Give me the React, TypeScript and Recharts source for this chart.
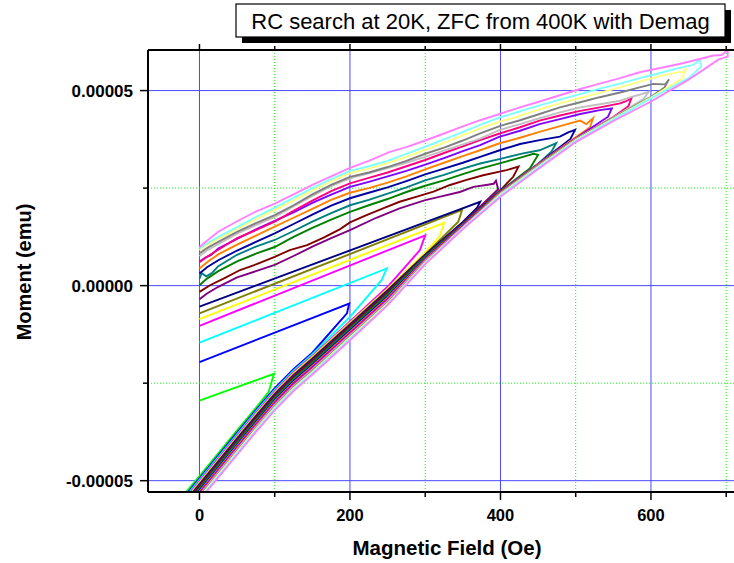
import React from 'react';
import { LineChart, Line, XAxis, YAxis, ReferenceLine } from 'recharts';

// Magnetic field in Oe, moment in units of 1e-5 emu. Each reversal curve: [H, M] points in drawing order.
const X_MAJOR = [0, 200, 400, 600];
const X_MINOR = [100, 300, 500, 700];
const Y_MAJOR = [-5, 0, 5];
const Y_MINOR = [-2.5, 2.5];
const X_TICKS = [0, 100, 200, 300, 400, 500, 600, 700];
const Y_TICKS = [-5, -2.5, 0, 2.5, 5];
const X_DOMAIN: [number, number] = [-68.4, 726.3];
const Y_DOMAIN: [number, number] = [-5.29, 6.04];

const TITLE = 'RC search at 20K, ZFC from 400K with Demag';
const X_TITLE = 'Magnetic Field (Oe)';
const Y_TITLE = 'Moment (emu)';

const BLACK_RC = [[-45, -6.25], [0, -5.2], [55, -3.9]];
const RED_RC = [[-45, -6.35], [0, -5.3], [55, -4.0]];
const GREEN_RC = [[-45, -5.93], [-12, -5.16], [0, -4.88], [50, -3.71], [75, -3.13], [92, -2.72], [99, -2.26], [0, -2.95]];
const BLUE_RC = [[-45, -5.99], [0, -4.94], [50, -3.77], [75, -3.19], [100, -2.63], [125, -2.14], [150, -1.72], [196, -0.71], [199, -0.46], [0, -1.96]];
const CYAN_RC = [[-45, -6.03], [0, -4.98], [50, -3.81], [75, -3.23], [100, -2.67], [125, -2.18], [150, -1.76], [200, -0.8], [242, 0.14], [249, 0.44], [0, -1.46]];
const MAGENTA_RC = [[-45, -6.07], [0, -5.02], [50, -3.85], [75, -3.27], [100, -2.71], [125, -2.22], [150, -1.8], [200, -0.92], [250, -0.03], [293, 0.91], [300, 1.29], [0, -1.03]];
const YELLOW_RC = [[-45, -6.1], [0, -5.05], [50, -3.88], [75, -3.3], [100, -2.74], [125, -2.25], [150, -1.83], [200, -0.95], [250, -0.08], [300, 0.85], [319, 1.25], [325, 1.61], [0, -0.86]];
const OLIVE_RC = [[-45, -6.13], [0, -5.08], [50, -3.91], [75, -3.33], [100, -2.77], [125, -2.28], [150, -1.86], [200, -0.98], [250, -0.11], [300, 0.8], [344, 1.64], [349, 1.94], [0, -0.71]];
const NAVY_RC = [[-45, -6.15], [0, -5.1], [50, -3.93], [75, -3.35], [100, -2.79], [125, -2.3], [150, -1.88], [200, -1.0], [250, -0.13], [300, 0.79], [350, 1.63], [369, 2.0], [373, 2.15], [0, -0.54]];
const PURPLE_RC = [[-45, -6.18], [0, -5.13], [50, -3.96], [75, -3.38], [100, -2.82], [125, -2.33], [150, -1.91], [200, -1.03], [250, -0.16], [300, 0.77], [350, 1.6], [397, 2.47], [394, 2.69], [391, 2.61], [381, 2.58], [364, 2.53], [346, 2.4], [320, 2.28], [300, 2.19], [266, 1.98], [235, 1.74], [200, 1.42], [175, 1.22], [150, 1.0], [125, 0.76], [100, 0.53], [75, 0.37], [50, 0.21], [25, -0.03], [10, -0.2], [0, -0.35]];
const WINE_RC = [[-45, -6.21], [0, -5.16], [50, -3.99], [75, -3.41], [100, -2.85], [125, -2.36], [150, -1.94], [200, -1.06], [250, -0.19], [300, 0.75], [350, 1.59], [400, 2.45], [417, 2.79], [424, 3.05], [408, 2.96], [377, 2.83], [355, 2.71], [333, 2.58], [311, 2.41], [289, 2.28], [266, 2.15], [244, 1.98], [222, 1.81], [200, 1.62], [187, 1.45], [165, 1.23], [143, 1.04], [120, 0.91], [100, 0.74], [76, 0.55], [54, 0.4], [32, 0.18], [14, 0.01], [0, -0.16]];
const DKGREEN_RC = [[-45, -6.24], [0, -5.19], [50, -4.02], [75, -3.44], [100, -2.88], [125, -2.39], [150, -1.97], [200, -1.09], [250, -0.22], [300, 0.74], [350, 1.57], [400, 2.43], [439, 3.0], [450, 3.35], [444, 3.38], [430, 3.3], [400, 3.14], [373, 3.0], [350, 2.86], [325, 2.7], [300, 2.56], [275, 2.4], [250, 2.22], [225, 2.06], [200, 1.89], [175, 1.69], [150, 1.48], [125, 1.25], [100, 0.99], [75, 0.82], [50, 0.62], [25, 0.37], [10, 0.18], [0, 0.01]];
const TEAL_RC = [[-45, -6.27], [0, -5.22], [50, -4.05], [75, -3.47], [100, -2.91], [125, -2.42], [150, -2.0], [200, -1.12], [250, -0.25], [300, 0.72], [350, 1.56], [400, 2.42], [450, 3.12], [468, 3.44], [474, 3.65], [468, 3.6], [452, 3.47], [430, 3.39], [400, 3.25], [373, 3.13], [350, 3.0], [325, 2.84], [300, 2.7], [275, 2.52], [250, 2.36], [225, 2.2], [200, 2.06], [175, 1.86], [150, 1.64], [125, 1.4], [100, 1.17], [75, 1.0], [50, 0.79], [25, 0.5], [17, 0.33], [9, 0.24], [3, 0.32], [0, 0.18]];
const ROYAL_RC = [[-45, -6.3], [0, -5.25], [50, -4.08], [75, -3.5], [100, -2.94], [125, -2.45], [150, -2.03], [200, -1.15], [250, -0.28], [300, 0.7], [350, 1.55], [400, 2.41], [450, 3.12], [493, 3.76], [499, 3.99], [490, 3.93], [479, 3.82], [452, 3.73], [426, 3.63], [399, 3.47], [373, 3.3], [350, 3.15], [325, 3.0], [300, 2.85], [275, 2.68], [250, 2.52], [225, 2.38], [200, 2.24], [175, 2.05], [150, 1.82], [125, 1.58], [100, 1.34], [75, 1.12], [50, 0.9], [25, 0.65], [10, 0.47], [0, 0.31]];
const ORANGE_RC = [[-45, -6.33], [0, -5.28], [50, -4.11], [75, -3.53], [100, -2.97], [125, -2.48], [150, -2.06], [200, -1.18], [250, -0.31], [300, 0.68], [350, 1.54], [400, 2.4], [450, 3.11], [500, 3.8], [519, 4.06], [523, 4.29], [514, 4.14], [506, 4.23], [479, 4.09], [452, 3.94], [426, 3.79], [399, 3.65], [373, 3.47], [350, 3.32], [325, 3.15], [300, 2.98], [275, 2.8], [250, 2.64], [225, 2.5], [200, 2.38], [175, 2.2], [150, 1.97], [125, 1.74], [100, 1.51], [75, 1.28], [50, 1.05], [25, 0.8], [10, 0.6], [0, 0.44]];
const VIOLET_RC = [[-45, -6.36], [0, -5.31], [50, -4.14], [75, -3.56], [100, -3.0], [125, -2.51], [150, -2.09], [200, -1.21], [250, -0.34], [300, 0.66], [350, 1.53], [400, 2.39], [450, 3.1], [500, 3.78], [543, 4.33], [548, 4.54], [532, 4.5], [506, 4.4], [479, 4.27], [452, 4.14], [426, 3.97], [399, 3.82], [373, 3.6], [350, 3.45], [325, 3.27], [300, 3.1], [275, 2.94], [250, 2.8], [225, 2.66], [200, 2.53], [175, 2.33], [150, 2.12], [125, 1.88], [100, 1.66], [75, 1.44], [50, 1.2], [25, 0.95], [15, 0.78], [8, 0.72], [0, 0.62]];
const PINK_RC = [[-45, -6.39], [0, -5.34], [50, -4.17], [75, -3.59], [100, -3.03], [125, -2.54], [150, -2.12], [200, -1.24], [250, -0.37], [300, 0.65], [350, 1.51], [400, 2.38], [450, 3.09], [500, 3.77], [550, 4.32], [570, 4.6], [574, 4.8], [566, 4.72], [559, 4.67], [532, 4.57], [506, 4.48], [479, 4.36], [452, 4.23], [426, 4.06], [399, 3.9], [373, 3.73], [350, 3.57], [325, 3.4], [300, 3.22], [275, 3.06], [250, 2.9], [225, 2.76], [200, 2.62], [175, 2.42], [150, 2.18], [125, 1.92], [100, 1.64], [75, 1.42], [50, 1.22], [25, 0.92], [10, 0.74], [0, 0.6]];
const LTGRAY_RC = [[-45, -6.42], [0, -5.37], [50, -4.2], [75, -3.62], [100, -3.06], [125, -2.57], [150, -2.15], [200, -1.27], [250, -0.4], [300, 0.63], [350, 1.5], [400, 2.37], [450, 3.08], [500, 3.76], [550, 4.31], [590, 4.78], [597, 4.97], [586, 4.9], [573, 4.83], [559, 4.74], [532, 4.65], [506, 4.57], [479, 4.44], [452, 4.29], [426, 4.14], [399, 3.99], [373, 3.77], [350, 3.62], [325, 3.46], [300, 3.3], [275, 3.15], [250, 3.01], [225, 2.88], [200, 2.75], [175, 2.55], [150, 2.3], [125, 2.03], [100, 1.76], [75, 1.55], [50, 1.33], [25, 1.06], [10, 0.9], [0, 0.76]];
const GRAY_RC = [[-45, -6.45], [0, -5.4], [50, -4.23], [75, -3.65], [100, -3.09], [125, -2.6], [150, -2.18], [200, -1.3], [250, -0.43], [300, 0.61], [350, 1.49], [400, 2.36], [450, 3.07], [500, 3.75], [550, 4.3], [600, 4.84], [618, 5.08], [624, 5.29], [619, 5.16], [603, 5.17], [585, 5.08], [559, 4.95], [532, 4.83], [506, 4.7], [479, 4.57], [452, 4.4], [426, 4.24], [399, 4.09], [373, 3.9], [350, 3.72], [325, 3.54], [300, 3.38], [275, 3.2], [250, 3.04], [225, 2.9], [200, 2.79], [175, 2.58], [150, 2.34], [125, 2.06], [100, 1.81], [75, 1.6], [50, 1.38], [25, 1.12], [10, 0.96], [0, 0.83]];
const LTYELLOW_RC = [[-45, -6.48], [0, -5.43], [50, -4.26], [75, -3.68], [100, -3.12], [125, -2.63], [150, -2.21], [200, -1.33], [250, -0.46], [300, 0.59], [350, 1.48], [400, 2.34], [450, 3.05], [500, 3.73], [550, 4.28], [600, 4.82], [641, 5.3], [647, 5.57], [643, 5.47], [638, 5.48], [612, 5.37], [585, 5.23], [559, 5.08], [532, 4.94], [506, 4.81], [479, 4.67], [452, 4.52], [426, 4.35], [399, 4.2], [373, 4.03], [350, 3.85], [325, 3.66], [300, 3.48], [275, 3.3], [250, 3.14], [225, 3.0], [200, 2.88], [175, 2.67], [150, 2.44], [125, 2.18], [100, 1.94], [75, 1.7], [50, 1.45], [25, 1.2], [10, 1.04], [0, 0.91]];
const LTCYAN_RC = [[-45, -6.51], [0, -5.46], [50, -4.29], [75, -3.71], [100, -3.15], [125, -2.66], [150, -2.24], [200, -1.36], [250, -0.49], [300, 0.57], [350, 1.47], [400, 2.32], [450, 3.03], [500, 3.71], [550, 4.26], [600, 4.8], [650, 5.32], [667, 5.62], [665, 5.78], [656, 5.66], [638, 5.58], [612, 5.45], [585, 5.32], [559, 5.18], [532, 5.05], [506, 4.91], [479, 4.77], [452, 4.62], [426, 4.47], [399, 4.31], [373, 4.12], [350, 3.94], [325, 3.75], [300, 3.56], [275, 3.38], [250, 3.2], [225, 3.06], [200, 2.94], [175, 2.73], [150, 2.5], [125, 2.25], [100, 2.0], [75, 1.76], [50, 1.5], [25, 1.25], [10, 1.08], [0, 0.95]];
const LTMAGENTA_RC = [[-45, -6.55], [0, -5.5], [50, -4.33], [75, -3.75], [100, -3.19], [125, -2.7], [150, -2.28], [200, -1.4], [250, -0.5], [300, 0.55], [350, 1.45], [400, 2.28], [450, 2.99], [500, 3.68], [550, 4.22], [600, 4.72], [650, 5.28], [690, 5.8], [702, 5.87], [702, 6.04], [694, 5.91], [683, 5.9], [665, 5.81], [638, 5.68], [612, 5.58], [585, 5.47], [559, 5.32], [532, 5.18], [506, 5.04], [479, 4.88], [452, 4.72], [426, 4.57], [399, 4.4], [373, 4.24], [350, 4.08], [325, 3.9], [300, 3.72], [275, 3.55], [253, 3.43], [225, 3.2], [200, 3.02], [175, 2.8], [150, 2.58], [125, 2.34], [100, 2.1], [75, 1.9], [50, 1.65], [25, 1.38], [10, 1.15], [0, 0.99]];

const SERIES = [
  { name: 'black', color: '#000000', points: BLACK_RC },
  { name: 'red', color: '#FF0000', points: RED_RC },
  { name: 'green', color: '#00FF00', points: GREEN_RC },
  { name: 'blue', color: '#0000FF', points: BLUE_RC },
  { name: 'cyan', color: '#00FFFF', points: CYAN_RC },
  { name: 'magenta', color: '#FF00FF', points: MAGENTA_RC },
  { name: 'yellow', color: '#FFFF00', points: YELLOW_RC },
  { name: 'olive', color: '#808000', points: OLIVE_RC },
  { name: 'navy', color: '#000080', points: NAVY_RC },
  { name: 'purple', color: '#800080', points: PURPLE_RC },
  { name: 'wine', color: '#800000', points: WINE_RC },
  { name: 'dkgreen', color: '#008000', points: DKGREEN_RC },
  { name: 'teal', color: '#008080', points: TEAL_RC },
  { name: 'royal', color: '#0000A0', points: ROYAL_RC },
  { name: 'orange', color: '#FF8000', points: ORANGE_RC },
  { name: 'violet', color: '#8000FF', points: VIOLET_RC },
  { name: 'pink', color: '#FF0080', points: PINK_RC },
  { name: 'ltgray', color: '#C0C0C0', points: LTGRAY_RC },
  { name: 'gray', color: '#808080', points: GRAY_RC },
  { name: 'ltyellow', color: '#FFFF80', points: LTYELLOW_RC },
  { name: 'ltcyan', color: '#80FFFF', points: LTCYAN_RC },
  { name: 'ltmagenta', color: '#FF80FF', points: LTMAGENTA_RC },
];

const FONT = '"Liberation Sans", Arial, Helvetica, sans-serif';

const fmtY = (v: number) => (v / 100000).toFixed(5);

const BottomTick = (props: any) => {
  const { x, y, payload } = props;
  const major = X_MAJOR.includes(payload.value);
  return (
    <g>
      <line x1={x} y1={y} x2={x} y2={y + (major ? 8 : 5)} stroke="#000" strokeWidth={1.5} />
      {major && (
        <text x={x} y={y + 29} textAnchor="middle" fontSize={16.5} fontWeight="bold" fontFamily={FONT} fill="#000">
          {payload.value}
        </text>
      )}
    </g>
  );
};

const TopTick = (props: any) => {
  const { x, y, payload } = props;
  const major = X_MAJOR.includes(payload.value);
  return <line x1={x} y1={y} x2={x} y2={y - (major ? 6 : 4)} stroke="#000" strokeWidth={1.5} />;
};

const LeftTick = (props: any) => {
  const { x, y, payload } = props;
  const major = Y_MAJOR.includes(payload.value);
  return (
    <g>
      <line x1={x} y1={y} x2={x - (major ? 8 : 5)} y2={y} stroke="#000" strokeWidth={1.5} />
      {major && (
        <text x={x - 15} y={y + 6} textAnchor="end" fontSize={17} fontWeight="bold" fontFamily={FONT} fill="#000">
          {fmtY(payload.value)}
        </text>
      )}
    </g>
  );
};

export default function App() {
  return (
    <div style={{ position: 'relative', width: 734, height: 563, overflow: 'hidden', background: '#fff' }}>
      <style>{'body{margin:0;}'}</style>
      <LineChart width={760} height={563} margin={{ top: 44, right: 14, bottom: 0, left: 0 }}>
        <XAxis
          type="number"
          dataKey="h"
          domain={X_DOMAIN}
          allowDataOverflow
          ticks={X_TICKS}
          interval={0}
          height={71}
          tick={BottomTick}
          tickLine={false}
          tickSize={0}
          tickMargin={0}
          axisLine={{ stroke: '#000', strokeWidth: 2 }}
        />
        <XAxis
          xAxisId="top"
          orientation="top"
          type="number"
          dataKey="h"
          domain={X_DOMAIN}
          allowDataOverflow
          ticks={X_TICKS}
          interval={0}
          height={6}
          tick={TopTick}
          tickLine={false}
          tickSize={0}
          tickMargin={0}
          axisLine={{ stroke: '#000', strokeWidth: 2 }}
        />
        <YAxis
          type="number"
          dataKey="m"
          domain={Y_DOMAIN}
          allowDataOverflow
          ticks={Y_TICKS}
          interval={0}
          width={148}
          tick={LeftTick}
          tickLine={false}
          tickSize={0}
          tickMargin={0}
          axisLine={{ stroke: '#000', strokeWidth: 2 }}
        />
        {X_MAJOR.map((v) => (
          <ReferenceLine key={'xM' + v} x={v} stroke="#4848ff" strokeWidth={1} />
        ))}
        {Y_MAJOR.map((v) => (
          <ReferenceLine key={'yM' + v} y={v} stroke="#4848ff" strokeWidth={1} />
        ))}
        {X_MINOR.map((v) => (
          <ReferenceLine key={'xm' + v} x={v} stroke="#00ff00" strokeWidth={1} strokeDasharray="1 2" />
        ))}
        {Y_MINOR.map((v) => (
          <ReferenceLine key={'ym' + v} y={v} stroke="#00ff00" strokeWidth={1} strokeDasharray="1 2" />
        ))}
        {SERIES.map((s) => (
          <Line
            key={s.name}
            name={s.name}
            data={s.points.map(([h, m]) => ({ h, m }))}
            dataKey="m"
            type="linear"
            stroke={s.color}
            strokeWidth={1.9}
            dot={false}
            activeDot={false}
            isAnimationActive={false}
          />
        ))}
      </LineChart>
      <svg width={734} height={563} style={{ position: 'absolute', left: 0, top: 0, pointerEvents: 'none' }}>
        <rect x={242} y={10} width={489} height={33} fill="#000" />
        <rect x={236} y={4} width={489} height={33} fill="#fff" stroke="#000" strokeWidth={1.2} />
        <text x={480.5} y={29} textAnchor="middle" fontSize={22} fontFamily={FONT} fill="#000">
          {TITLE}
        </text>
        <text x={447} y={555} textAnchor="middle" fontSize={20.5} fontWeight="bold" fontFamily={FONT} fill="#000">
          {X_TITLE}
        </text>
        <text transform="translate(31,272) rotate(-90)" textAnchor="middle" fontSize={20} fontWeight="bold" fontFamily={FONT} fill="#000">
          {Y_TITLE}
        </text>
      </svg>
    </div>
  );
}
